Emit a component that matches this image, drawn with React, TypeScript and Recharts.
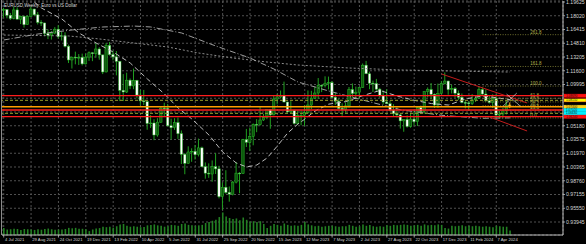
import React from 'react';
import { ComposedChart, Bar, Line, XAxis, YAxis, CartesianGrid, ReferenceLine } from 'recharts';

// weekly EURUSD candles, week of 4 Jul 2021 .. week of 5 May 2024
const opens = [
  1.1865, 1.1875, 1.1808, 1.1771,
  1.1870, 1.1762, 1.1795, 1.1697, 1.1796,
  1.1880, 1.1813, 1.1725, 1.1718,
  1.1596, 1.1575, 1.1600, 1.1645, 1.1558,
  1.1568, 1.1446, 1.1286, 1.1318,
  1.1315, 1.1317, 1.1240, 1.1319,
  1.1370, 1.1360, 1.1414, 1.1345, 1.1146,
  1.1455, 1.1349, 1.1322, 1.1270,
  1.0932, 1.0912, 1.1050, 1.0983,
  1.1048, 1.0876, 1.0808, 1.0799,
  1.0545, 1.0550, 1.0410, 1.0560, 1.0722,
  1.0720, 1.0518, 1.0495, 1.0555,
  1.0425, 1.0185, 1.0080, 1.0212, 1.0220,
  1.0180, 1.0260, 1.0040, 0.9965,
  0.9955, 1.0040, 1.0015, 0.9690,
  0.9800, 0.9740, 0.9720, 0.9860, 0.9965,
  0.9960, 1.0355, 1.0325, 1.0395,
  1.0535, 1.0530, 1.0585, 1.0615,
  1.0705, 1.0645, 1.0830, 1.0855, 1.0870,
  1.0795, 1.0680, 1.0695, 1.0545,
  1.0635, 1.0640, 1.0670, 1.0760,
  1.0840, 1.0900, 1.0990, 1.0985, 1.1015,
  1.1020, 1.0850, 1.0805, 1.0720,
  1.0705, 1.0750, 1.0940, 1.0895,
  1.0910, 1.0965, 1.1225, 1.1125, 1.1015,
  1.1010, 1.0945, 1.0870, 1.0795,
  1.0775, 1.0700, 1.0660, 1.0645,
  1.0575, 1.0590, 1.0510, 1.0595, 1.0565,
  1.0730, 1.0685, 1.0915, 1.0940,
  1.0885, 1.0760, 1.0895, 1.1010, 1.1040,
  1.0940, 1.0950, 1.0898, 1.0850,
  1.0790, 1.0785, 1.0775, 1.0820,
  1.0838, 1.0940, 1.0888, 1.0808, 1.0790,
  1.0837, 1.0643, 1.0655, 1.0692,
  1.0760,
];
const highs = [
  1.1895, 1.1880, 1.1835, 1.1909,
  1.1900, 1.1803, 1.1805, 1.1808, 1.1909,
  1.1884, 1.1846, 1.1750, 1.1720,
  1.1641, 1.1624, 1.1669, 1.1692, 1.1616,
  1.1609, 1.1464, 1.1325, 1.1383,
  1.1355, 1.1360, 1.1360, 1.1386,
  1.1377, 1.1482, 1.1434, 1.1347, 1.1483,
  1.1495, 1.1395, 1.1390, 1.1275,
  1.1121, 1.1137, 1.1070, 1.1185,
  1.1054, 1.0935, 1.0936, 1.0810,
  1.0642, 1.0594, 1.0607, 1.0736, 1.0787,
  1.0773, 1.0601, 1.0606, 1.0615,
  1.0463, 1.0200, 1.0278, 1.0255, 1.0294,
  1.0368, 1.0275, 1.0090, 1.0079,
  1.0113, 1.0198, 1.0051, 0.9854,
  0.9999, 0.9809, 0.9873, 1.0094, 0.9977,
  1.0365, 1.0481, 1.0497, 1.0545,
  1.0595, 1.0736, 1.0658, 1.0714,
  1.0713, 1.0874, 1.0888, 1.0929, 1.1033,
  1.0800, 1.0805, 1.0705, 1.0692,
  1.0695, 1.0760, 1.0930, 1.0926,
  1.0973, 1.1075, 1.1000, 1.1095, 1.1092,
  1.1040, 1.0905, 1.0835, 1.0780,
  1.0790, 1.0970, 1.1012, 1.0975,
  1.0970, 1.1245, 1.1275, 1.1150, 1.1045,
  1.1065, 1.0960, 1.0930, 1.0945,
  1.0810, 1.0770, 1.0735, 1.0655,
  1.0595, 1.0640, 1.0670, 1.0695, 1.0735,
  1.0755, 1.0918, 1.0965, 1.1017,
  1.0895, 1.1010, 1.1040, 1.1140, 1.1045,
  1.0998, 1.0970, 1.0930, 1.0895,
  1.0810, 1.0805, 1.0888, 1.0865,
  1.0981, 1.0965, 1.0942, 1.0865, 1.0885,
  1.0885, 1.0690, 1.0726, 1.0812,
  1.0790,
];
const lows = [
  1.1781, 1.1772, 1.1752, 1.1760,
  1.1760, 1.1705, 1.1664, 1.1694, 1.1794,
  1.1801, 1.1700, 1.1683, 1.1563,
  1.1529, 1.1524, 1.1586, 1.1535, 1.1513,
  1.1432, 1.1250, 1.1186, 1.1235,
  1.1228, 1.1222, 1.1234, 1.1275,
  1.1272, 1.1313, 1.1289, 1.1121, 1.1140,
  1.1338, 1.1281, 1.1106, 1.0806,
  1.0806, 1.0900, 1.0946, 1.0945,
  1.0837, 1.0757, 1.0760, 1.0471,
  1.0492, 1.0350, 1.0390, 1.0550, 1.0627,
  1.0510, 1.0359, 1.0470, 1.0365,
  1.0072, 0.9952, 1.0075, 1.0097, 1.0123,
  1.0160, 1.0033, 0.9900, 0.9910,
  0.9864, 0.9955, 0.9670, 0.9536,
  0.9725, 0.9632, 0.9705, 0.9845, 0.9730,
  0.9955, 1.0270, 1.0223, 1.0290,
  1.0443, 1.0520, 1.0574, 1.0595,
  1.0483, 1.0640, 1.0767, 1.0836, 1.0793,
  1.0669, 1.0660, 1.0533, 1.0533,
  1.0524, 1.0516, 1.0660, 1.0713,
  1.0830, 1.0830, 1.0910, 1.0965, 1.0942,
  1.0840, 1.0760, 1.0710, 1.0635,
  1.0670, 1.0730, 1.0845, 1.0835,
  1.0833, 1.0960, 1.1120, 1.0945, 1.0912,
  1.0925, 1.0845, 1.0765, 1.0770,
  1.0685, 1.0630, 1.0615, 1.0485,
  1.0448, 1.0496, 1.0495, 1.0520, 1.0515,
  1.0655, 1.0660, 1.0850, 1.0830,
  1.0725, 1.0725, 1.0885, 1.1000, 1.0880,
  1.0895, 1.0845, 1.0820, 1.0780,
  1.0720, 1.0695, 1.0760, 1.0795,
  1.0835, 1.0880, 1.0800, 1.0776, 1.0725,
  1.0622, 1.0601, 1.0625, 1.0650,
  1.0724,
];
const closes = [
  1.1875, 1.1808, 1.1771, 1.1870,
  1.1762, 1.1795, 1.1697, 1.1796, 1.1880,
  1.1813, 1.1725, 1.1718, 1.1596,
  1.1575, 1.1600, 1.1645, 1.1558, 1.1568,
  1.1446, 1.1286, 1.1318, 1.1315,
  1.1317, 1.1240, 1.1319, 1.1370,
  1.1360, 1.1414, 1.1345, 1.1146, 1.1455,
  1.1349, 1.1322, 1.1270, 1.0932,
  1.0912, 1.1050, 1.0983, 1.1048,
  1.0876, 1.0808, 1.0799, 1.0545,
  1.0550, 1.0410, 1.0560, 1.0722, 1.0720,
  1.0518, 1.0495, 1.0555, 1.0425,
  1.0185, 1.0080, 1.0212, 1.0220, 1.0180,
  1.0260, 1.0040, 0.9965, 0.9955,
  1.0040, 1.0015, 0.9690, 0.9800,
  0.9740, 0.9720, 0.9860, 0.9965, 0.9960,
  1.0355, 1.0325, 1.0395, 1.0535,
  1.0530, 1.0585, 1.0615, 1.0705,
  1.0645, 1.0830, 1.0855, 1.0870, 1.0795,
  1.0680, 1.0695, 1.0545, 1.0635,
  1.0640, 1.0670, 1.0760, 1.0840,
  1.0900, 1.0990, 1.0985, 1.1015, 1.1020,
  1.0850, 1.0805, 1.0720, 1.0705,
  1.0750, 1.0940, 1.0895, 1.0910,
  1.0965, 1.1225, 1.1125, 1.1015, 1.1010,
  1.0945, 1.0870, 1.0795, 1.0775,
  1.0700, 1.0660, 1.0645, 1.0575,
  1.0590, 1.0510, 1.0595, 1.0565, 1.0730,
  1.0685, 1.0915, 1.0940, 1.0885,
  1.0760, 1.0895, 1.1010, 1.1040, 1.0940,
  1.0950, 1.0898, 1.0850, 1.0790,
  1.0785, 1.0775, 1.0820, 1.0838,
  1.0940, 1.0888, 1.0808, 1.0790, 1.0837,
  1.0643, 1.0655, 1.0692, 1.0760,
  1.0745,
];
// tick volume (thousands)
const volumes = [
  30, 24, 25, 27, 26, 22, 26, 25, 24, 22, 25, 23, 26, 28, 25, 23, 24, 24, 26, 31, 29, 31, 27, 27, 25, 17,
  24, 28, 30, 36, 34,
  36, 32, 38, 46,
  48, 40, 36, 38,
  36, 34, 35, 42,
  44, 46, 42, 40, 36,
  38, 44, 42, 40,
  48, 50, 44, 42, 40,
  42, 44, 52, 56,
  62, 66, 78, 98,
  80, 74, 70, 72, 64,
  76, 66, 58, 60,
  56, 60, 48, 30,
  40, 48, 44, 40, 50,
  44, 40, 42, 40,
  44, 56, 46, 42,
  38, 40, 36, 38, 40,
  40, 38, 36, 38,
  38, 44, 40, 36,
  38, 46, 40, 44, 38,
  36, 38, 36, 42,
  40, 44, 42, 44,
  46, 44, 40, 42, 44,
  40, 46, 42, 44,
  42, 46, 44, 30, 28,
  40, 38, 40, 42,
  38, 40, 38, 40,
  38, 36, 38, 36, 34,
  40, 38, 36, 36,
  20,
];

// moving averages at these weeks
const fastMaWeek = [9, 11, 17, 22, 27, 32, 37, 42, 47, 51, 55, 60, 64, 68, 71, 74, 77, 80, 83, 86, 88, 91, 95, 100, 105, 110, 115, 120, 125, 130, 135, 140, 145, 148];
const fastMaVal = [1.196, 1.1893, 1.1764, 1.1601, 1.1484, 1.1379, 1.125, 1.1064, 1.0889, 1.0725, 1.0597, 1.041, 1.0212, 1.0083, 1.0037, 1.006, 1.0142, 1.0282, 1.0433, 1.0538, 1.0595, 1.069, 1.077, 1.08, 1.087, 1.093, 1.0865, 1.0815, 1.0777, 1.076, 1.083, 1.0867, 1.084, 1.0822];
const midMaWeek = [0, 10, 20, 29, 38, 43, 52, 62, 72, 79, 86, 95, 104, 116, 128, 140, 148];
const midMaVal = [1.1519, 1.1589, 1.1636, 1.1671, 1.1682, 1.1671, 1.1601, 1.1449, 1.1309, 1.118, 1.1029, 1.0924, 1.0828, 1.0705, 1.064, 1.0605, 1.061];
const slowMaWeek = [0, 19, 28, 38, 48, 57, 67, 77, 86, 101, 116, 131, 148];
const slowMaVal = [1.1577, 1.1566, 1.1531, 1.1484, 1.1437, 1.1367, 1.1309, 1.1262, 1.1227, 1.1192, 1.1169, 1.1157, 1.1145];

const priceTicks = [1.19625, 1.1802, 1.16415, 1.1481, 1.13205, 1.116, 1.09995, 1.0839, 1.06785, 1.0518, 1.03575, 1.0197, 1.00365, 0.9876, 0.97155, 0.9555, 0.93945];
const coveredTicks = [1.0839, 1.06785];
const dateTicks = [0, 8, 16, 24, 32, 40, 48, 56, 64, 72, 80, 88, 96, 104, 112, 120, 128, 136, 144];
const dateLabels = ['4 Jul 2021', '29 Aug 2021', '24 Oct 2021', '19 Dec 2021', '13 Feb 2022', '10 Apr 2022', '5 Jun 2022', '31 Jul 2022', '25 Sep 2022', '20 Nov 2022', '15 Jan 2023', '12 Mar 2023', '7 May 2023', '2 Jul 2023', '27 Aug 2023', '22 Oct 2023', '17 Dec 2023', '11 Feb 2024', '7 Apr 2024'];

// horizontal levels and their price tags
const levelPrices = [1.0869, 1.0815, 1.074, 1.0702, 1.0663, 1.0624];
const levelKinds = ['red', 'olive', 'orange', 'red', 'olive', 'red'];
const tagKinds = ['red', 'yellow', 'gold', 'cyan', 'cyan', 'red'];

const fibNames = ['261.8', '161.8', '100.0', '61.8', '50.0', '38.2', '23.6', '0.0'];
const fibPrices = [1.1581, 1.121, 1.0981, 1.0838, 1.0796, 1.0752, 1.0699, 1.061];
const fibFrom = 140;

const trendFrom = [[128, 1.1122], [142, 1.062], [146, 1.0748], [147, 1.0888]];
const trendTo = [[153, 1.0784], [153, 1.0457], [150, 1.09], [151, 1.0748]];
const trendKinds = ['channel', 'channel', 'cross', 'cross'];

const SLOTS = 164;
const LAST = opens.length - 1;
const FONT = 'Liberation Sans, Arial, sans-serif';

const rows: any[] = Array.from({ length: SLOTS }, (_, i) =>
  i <= LAST
    ? { i, o: opens[i], h: highs[i], l: lows[i], c: closes[i], vol: volumes[i] }
    : { i }
);
fastMaWeek.forEach((w, k) => { rows[w].fast = fastMaVal[k]; });
midMaWeek.forEach((w, k) => { rows[w].mid = midMaVal[k]; });
slowMaWeek.forEach((w, k) => { rows[w].slow = slowMaVal[k]; });

const lineColor: any = { red: '#ff1c1c', olive: '#9aa22a', orange: '#ff9d00' };
const tagFill: any = { red: '#ff1010', yellow: '#ffff00', gold: '#ffd21a', cyan: '#00f0ff' };

function Candle(props: any) {
  const { x, y, width, height, payload, index } = props;
  if (!payload || payload.h == null || y == null) return <g />;
  const top = Math.min(y, y + height);
  const span = Math.abs(height);
  const k = span / Math.max(payload.h - payload.l, 1e-6);
  const cx = x + width / 2;
  const bTop = top + (payload.h - Math.max(payload.o, payload.c)) * k;
  const bBot = top + (payload.h - Math.min(payload.o, payload.c)) * k;
  const bull = payload.c >= payload.o;
  const last = index === LAST;
  const fill = last ? '#ffa21a' : bull ? '#0c5a0c' : '#ffffff';
  const edge = last ? '#ffcc33' : '#2cbb2c';
  return (
    <g>
      <line x1={cx} x2={cx} y1={top} y2={top + span} stroke={last ? '#ffb020' : '#20a020'} strokeWidth={1} />
      <rect x={cx - 1.2} y={bTop} width={2.4} height={Math.max(bBot - bTop, 0.8)} fill={fill} stroke={edge} strokeWidth={0.5} />
    </g>
  );
}

function PriceTick({ x, y, payload }: any) {
  if (coveredTicks.includes(payload.value)) return <g />;
  return (
    <g>
      <line x1={x} x2={x + 2} y1={y} y2={y} stroke="#bdbdbd" strokeWidth={0.8} />
      <text x={x + 3} y={y + 1.8} fontSize={5.2} fill="#d4d4d4" fontFamily={FONT}>
        {payload.value.toFixed(5)}
      </text>
    </g>
  );
}

function DateTick({ x, y, payload }: any) {
  const label = dateLabels[dateTicks.indexOf(payload.value)];
  return (
    <g>
      <line x1={x} x2={x} y1={y} y2={y + 2.5} stroke="#bdbdbd" strokeWidth={0.8} />
      <text x={x + 1.2} y={y + 6.2} fontSize={4.2} fill="#d4d4d4" fontFamily={FONT}>
        {label}
      </text>
    </g>
  );
}

function PriceTag({ viewBox, kind, text }: any) {
  if (!viewBox) return null;
  const x = viewBox.x + viewBox.width + 1;
  const y = viewBox.y;
  return (
    <g>
      <rect x={x} y={y - 1.6} width={22} height={3.2} fill={tagFill[kind]} stroke={kind === 'yellow' ? '#ff2020' : tagFill[kind]} strokeWidth={0.4} />
      <text x={x + 2} y={y + 1.1} fontSize={3.1} fill="#101010" fontFamily={FONT}>{text}</text>
    </g>
  );
}

function FibTag({ viewBox, text }: any) {
  if (!viewBox) return null;
  return (
    <text x={viewBox.x + viewBox.width - 31} y={viewBox.y - 1} fontSize={4.5} fill="#b3b34c" fontFamily={FONT}>
      {text}
    </text>
  );
}

export default function App() {
  return (
    <div style={{ position: 'absolute', left: 0, top: 0, width: 586, height: 244, background: '#000', overflow: 'hidden' }}>
      <ComposedChart width={586} height={244} data={rows} margin={{ top: 1, right: 0, bottom: 0, left: 2 }}>
        <CartesianGrid stroke="#505050" strokeDasharray="2 2" />
        <XAxis
          dataKey="i"
          type="category"
          ticks={dateTicks}
          interval={0}
          height={9}
          tickSize={0}
          tickMargin={0}
          tick={<DateTick />}
          axisLine={{ stroke: '#bdbdbd' }}
        />
        <XAxis xAxisId="v" dataKey="i" type="category" hide />
        <YAxis
          orientation="right"
          type="number"
          width={23}
          domain={[0.92428, 1.19742]}
          allowDataOverflow
          ticks={priceTicks}
          interval={0}
          tickSize={0}
          tickMargin={0}
          tick={<PriceTick />}
          axisLine={{ stroke: '#bdbdbd' }}
        />
        <YAxis yAxisId="v" hide domain={[0, 1017]} />

        <Bar xAxisId="v" yAxisId="v" dataKey="vol" fill="#238023" barSize={1.6} isAnimationActive={false} />
        <Bar
          dataKey={(d: any) => (d.h == null ? null : [d.l, d.h])}
          barSize={3}
          shape={<Candle />}
          isAnimationActive={false}
        />

        <Line dataKey="slow" stroke="#8c8c8c" strokeWidth={1} strokeDasharray="2 2" dot={false} connectNulls isAnimationActive={false} />
        <Line dataKey="mid" stroke="#9c9c9c" strokeWidth={1} strokeDasharray="6 2 1 2" dot={false} connectNulls isAnimationActive={false} />
        <Line dataKey="fast" stroke="#bcbcbc" strokeWidth={1} strokeDasharray="5 3" dot={false} connectNulls isAnimationActive={false} />

        {fibPrices.map((p, k) => (
          <ReferenceLine
            key={'fib' + k}
            segment={[{ x: fibFrom, y: p }, { x: SLOTS - 1, y: p }]}
            stroke="#8c8c3a"
            strokeDasharray="1 1.5"
            strokeWidth={0.8}
            label={<FibTag text={fibNames[k]} />}
          />
        ))}

        {levelPrices.map((p, k) => (
          <ReferenceLine
            key={'lvl' + k}
            y={p}
            stroke={lineColor[levelKinds[k]]}
            strokeWidth={levelKinds[k] === 'olive' ? 1 : 1.3}
            strokeDasharray={levelKinds[k] === 'olive' ? '3 2' : undefined}
            label={<PriceTag kind={tagKinds[k]} text={p.toFixed(5)} />}
          />
        ))}

        {trendFrom.map((f, k) => (
          <ReferenceLine
            key={'tr' + k}
            segment={[{ x: f[0], y: f[1] }, { x: trendTo[k][0], y: trendTo[k][1] }]}
            stroke={trendKinds[k] === 'channel' ? '#c41c1c' : '#cfcfcf'}
            strokeWidth={trendKinds[k] === 'channel' ? 1 : 0.7}
          />
        ))}
      </ComposedChart>

      <svg width={586} height={244} style={{ position: 'absolute', left: 0, top: 0, pointerEvents: 'none' }}>
        <line x1={1.5} x2={1.5} y1={0} y2={235} stroke="#8a8a8a" strokeWidth={1} />
        <text x={4} y={6.5} fontSize={5} fill="#d8d8d8" fontFamily={FONT} textLength={73} lengthAdjust="spacingAndGlyphs">
          EURUSD,Weekly:  Euro vs US Dollar
        </text>
      </svg>
    </div>
  );
}
